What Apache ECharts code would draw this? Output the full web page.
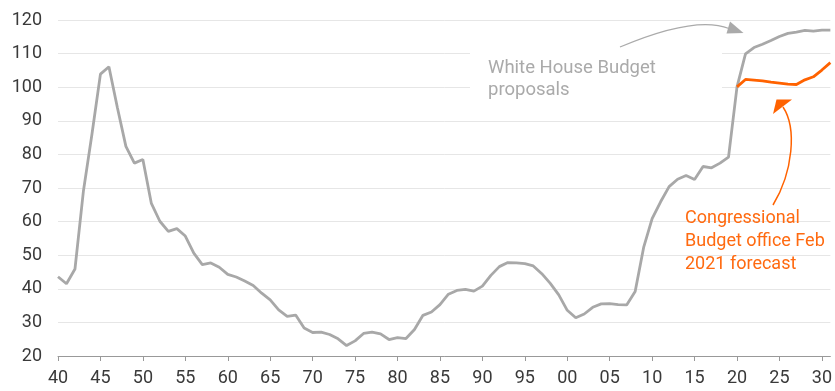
<!DOCTYPE html>
<html>
<head>
<meta charset="utf-8">
<script src="https://cdn.jsdelivr.net/npm/echarts@6/dist/echarts.min.js"></script>
<style>
html,body{margin:0;padding:0;background:#fff;}
#chart{width:835px;height:391px;}
</style>
</head>
<body>
<div id="chart"></div>
<script>
// Categories: years 1940-2031
var years = [1940,1941,1942,1943,1944,1945,1946,1947,1948,1949,
  1950,1951,1952,1953,1954,1955,1956,1957,1958,1959,
  1960,1961,1962,1963,1964,1965,1966,1967,1968,1969,
  1970,1971,1972,1973,1974,1975,1976,1977,1978,1979,
  1980,1981,1982,1983,1984,1985,1986,1987,1988,1989,
  1990,1991,1992,1993,1994,1995,1996,1997,1998,1999,
  2000,2001,2002,2003,2004,2005,2006,2007,2008,2009,
  2010,2011,2012,2013,2014,2015,2016,2017,2018,2019,
  2020,2021,2022,2023,2024,2025,2026,2027,2028,2029,
  2030,2031];

// Gray line: history + White House Budget proposals (1940-2031)
var whiteHouse = [43.6,41.5,45.9,69.2,86.0,103.9,106.1,93.9,82.4,77.4,
  78.5,65.4,60.1,57.1,57.9,55.7,50.6,47.2,47.7,46.4,
  44.3,43.5,42.3,41.0,38.7,36.7,33.7,31.8,32.2,28.3,
  27.0,27.1,26.4,25.1,23.1,24.5,26.7,27.1,26.6,24.9,
  25.5,25.2,27.9,32.1,33.1,35.3,38.4,39.5,39.8,39.3,
  40.8,44.0,46.6,47.8,47.7,47.5,46.8,44.5,41.6,38.2,
  33.6,31.4,32.5,34.5,35.5,35.6,35.3,35.2,39.2,52.3,
  60.9,65.9,70.4,72.6,73.7,72.5,76.4,76.0,77.4,79.2,
  100.1,109.9,111.8,112.8,113.9,115.1,116.0,116.4,116.9,116.7,
  117.0,117.0];

// Orange line: CBO Feb 2021 forecast (2020-2031)
var cboYears = [2020,2021,2022,2023,2024,2025,2026,2027,2028,2029,2030,2031];
var cbo = [100.1,102.3,102.1,101.9,101.5,101.2,100.9,100.8,102.2,103.1,105.1,107.3];

var yTicks = [20,30,40,50,60,70,80,90,100,110,120];

var FONT = 'Roboto';
var GRAY = '#a8a8a8';
var ORANGE = '#ff6200';

var chart = echarts.init(document.getElementById('chart'), null, {renderer:'canvas'});
chart.setOption({
  animation: false,
  backgroundColor: '#ffffff',
  grid: {left: 58, right: 1.5, top: 20, bottom: 35, containLabel: false},
  xAxis: {
    type: 'category',
    data: years.map(String),
    boundaryGap: false,
    axisLine: {show: true, lineStyle: {color: '#999999', width: 1}},
    axisTick: {show: true, interval: 4, length: 5, lineStyle: {color: '#999999'}},
    axisLabel: {
      interval: 4,
      margin: 13,
      fontFamily: FONT,
      fontSize: 18,
      color: '#3a3a3a',
      formatter: function (v) { var y = Number(v) % 100; return (y < 10 ? '0' : '') + y; }
    },
    splitLine: {show: false}
  },
  yAxis: {
    type: 'value',
    min: yTicks[0],
    max: yTicks[yTicks.length - 1],
    interval: 10,
    axisLine: {show: false},
    axisTick: {show: false},
    axisLabel: {margin: 16, fontFamily: FONT, fontSize: 18, color: '#3a3a3a'},
    splitLine: {show: true, lineStyle: {color: '#e6e6e6', width: 1}}
  },
  series: [
    {
      name: 'White House Budget proposals',
      type: 'line',
      data: whiteHouse,
      symbol: 'none',
      lineStyle: {color: GRAY, width: 2.8},
      z: 2
    },
    {
      name: 'Congressional Budget office Feb 2021 forecast',
      type: 'line',
      data: cboYears.map(function (y, i) { return [String(y), cbo[i]]; }),
      symbol: 'none',
      lineStyle: {color: ORANGE, width: 2.8},
      z: 3
    }
  ],
  graphic: [
    {type: 'rect', z: 50, shape: {x: 470, y: 36, width: 252, height: 68}, style: {fill: '#ffffff'}},
    {type: 'text', z: 51, left: 488, top: 57,
      style: {text: 'White House Budget\nproposals', fontFamily: FONT, fontSize: 18.5, lineHeight: 22, fill: '#aaaaaa'}},
    {type: 'bezierCurve', z: 51,
      shape: {x1: 620, y1: 47, cpx1: 665, cpy1: 28, cpx2: 705, cpy2: 19, x2: 729, y2: 28.5},
      style: {stroke: '#aaaaaa', lineWidth: 1.2, fill: null}},
    {type: 'polygon', z: 51, shape: {points: [[730, 21.5], [743.5, 33], [726.5, 33.5]]}, style: {fill: '#aaaaaa'}},
    {type: 'text', z: 51, left: 685, top: 207,
      style: {text: 'Congressional\nBudget office Feb\n2021 forecast', fontFamily: FONT, fontSize: 18, lineHeight: 23, fill: '#ff6a10'}},
    {type: 'bezierCurve', z: 51,
      shape: {x1: 773, y1: 205, cpx1: 793, cpy1: 172, cpx2: 797, cpy2: 128, x2: 783, y2: 107},
      style: {stroke: ORANGE, lineWidth: 1.5, fill: null}},
    {type: 'polygon', z: 51, shape: {points: [[776.5, 99.5], [792, 99.5], [773, 114]]}, style: {fill: ORANGE}}
  ]
});
</script>
</body>
</html>
